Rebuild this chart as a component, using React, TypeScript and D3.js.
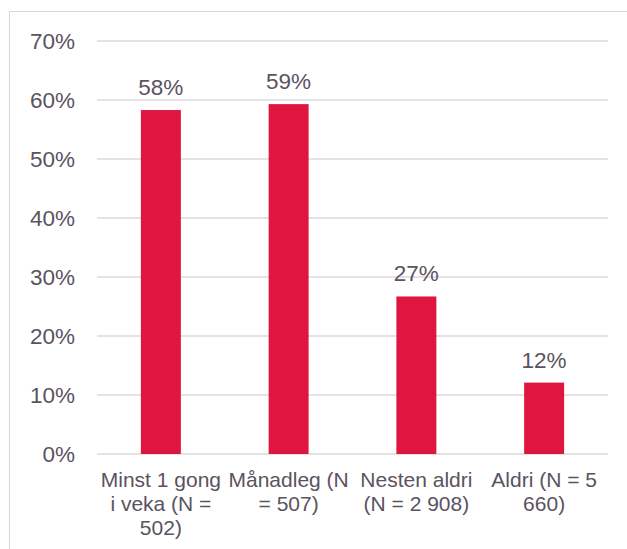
import React, { useEffect, useRef } from "react";
import * as d3 from "d3";

// Share per frequency group
const categories = [
  "Minst 1 gong i veka (N = 502)",
  "Månadleg (N = 507)",
  "Nesten aldri (N = 2 908)",
  "Aldri (N = 5 660)",
];
const values = [0.583, 0.593, 0.267, 0.121];
const yTicks = [0, 0.1, 0.2, 0.3, 0.4, 0.5, 0.6, 0.7];

const W = 627;
const H = 549;
const FONT = "'Liberation Sans', Arial, sans-serif";
const TEXT = "#5a5360";
const GRID = "#dcd8de";
const BAR = "#df1740";

export default function App() {
  const ref = useRef<SVGSVGElement | null>(null);

  useEffect(() => {
    const svg = d3.select(ref.current);
    svg.selectAll("*").remove();

    const left = 97;
    const right = 608;
    const top = 41;
    const bottom = 454;

    const x = d3
      .scaleBand<string>()
      .domain(categories)
      .range([left, right])
      .paddingInner(0.687)
      .paddingOuter(0.3435);
    const y = d3.scaleLinear().domain([0, 0.7]).range([bottom, top]);
    const pct = d3.format(".0%");

    // chart area frame
    svg
      .append("rect")
      .attr("x", 9.5)
      .attr("y", 11.5)
      .attr("width", W)
      .attr("height", H)
      .attr("fill", "#fff")
      .attr("stroke", "#d9d9d9")
      .attr("stroke-width", 1);

    // gridlines
    svg
      .append("g")
      .selectAll("line")
      .data(yTicks)
      .join("line")
      .attr("x1", left)
      .attr("x2", right)
      .attr("y1", (d) => y(d))
      .attr("y2", (d) => y(d))
      .attr("stroke", GRID)
      .attr("stroke-width", 1.3);

    // y tick labels
    svg
      .append("g")
      .selectAll("text")
      .data(yTicks)
      .join("text")
      .attr("x", 75)
      .attr("y", (d) => y(d))
      .attr("dy", "0.35em")
      .attr("text-anchor", "end")
      .attr("font-family", FONT)
      .attr("font-size", 22.5)
      .attr("fill", TEXT)
      .text((d) => pct(d));

    // bars
    svg
      .append("g")
      .selectAll("rect")
      .data(values)
      .join("rect")
      .attr("x", (_, i) => x(categories[i])!)
      .attr("width", x.bandwidth())
      .attr("y", (d) => y(d))
      .attr("height", (d) => bottom - y(d))
      .attr("fill", BAR);

    // value labels
    svg
      .append("g")
      .selectAll("text")
      .data(values)
      .join("text")
      .attr("x", (_, i) => x(categories[i])! + x.bandwidth() / 2)
      .attr("y", (d) => y(d) - 15)
      .attr("text-anchor", "middle")
      .attr("font-family", FONT)
      .attr("font-size", 22.5)
      .attr("fill", TEXT)
      .text((d) => pct(d));

    // category labels, word-wrapped to the band step
    const maxW = x.step();
    const cat = svg
      .append("g")
      .selectAll("text")
      .data(categories)
      .join("text")
      .attr("x", (d) => x(d)! + x.bandwidth() / 2)
      .attr("y", 486.5)
      .attr("text-anchor", "middle")
      .attr("font-family", FONT)
      .attr("font-size", 21)
      .attr("fill", TEXT);

    cat.each(function (d) {
      const t = d3.select(this);
      const cx = +t.attr("x");
      const words = d.split(" ");
      let line: string[] = [];
      let lineNo = 0;
      let tspan = t.append("tspan").attr("x", cx).attr("dy", 0);
      for (const w of words) {
        line.push(w);
        tspan.text(line.join(" "));
        if ((tspan.node() as SVGTSpanElement).getComputedTextLength() > maxW && line.length > 1) {
          line.pop();
          tspan.text(line.join(" "));
          line = [w];
          lineNo++;
          tspan = t.append("tspan").attr("x", cx).attr("dy", 24).text(w);
        }
      }
    });
  }, []);

  return <svg ref={ref} width={W} height={H} style={{ display: "block", position: "absolute", left: 0, top: 0 }} />;
}
